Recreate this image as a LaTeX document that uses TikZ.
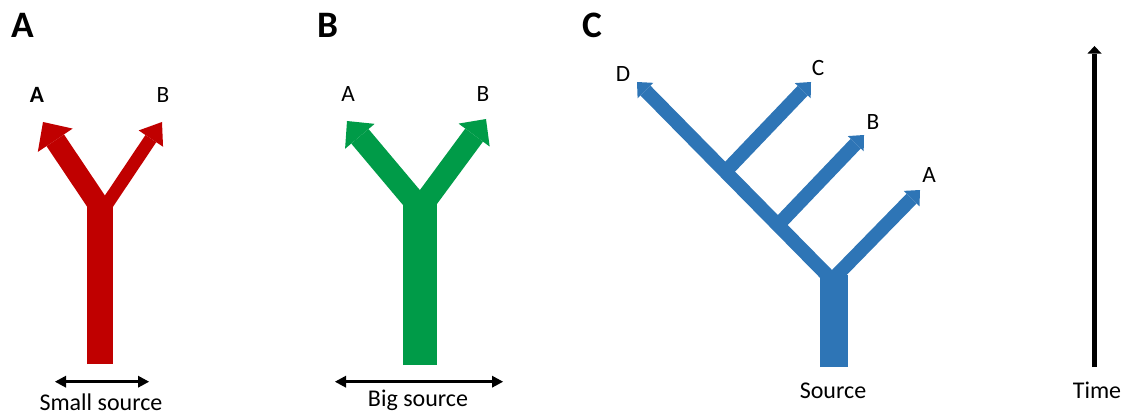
\documentclass[tikz,border=0pt]{standalone}
\usepackage{fontspec}
\setmainfont{Carlito}
\usetikzlibrary{arrows.meta}
\definecolor{redY}{HTML}{C00000}
\definecolor{greenY}{HTML}{009B48}
\definecolor{blueY}{HTML}{2E75B6}
\begin{document}
\begin{tikzpicture}[x=0.75pt,y=-0.75pt,
    lab/.style={font=\fontsize{17.5}{21}\selectfont, anchor=base, inner sep=0pt},
    txt/.style={font=\fontsize{18}{22}\selectfont, anchor=base, inner sep=0pt},
    panel/.style={font=\fontsize{28}{34}\selectfont\bfseries, anchor=base, inner sep=0pt},
    br/.style n args={3}{line width=#1, -{Triangle[length=#2,width=#3,line width=0pt]}},
    dbl/.style={line width=2.5pt,
      {Triangle[length=8.25pt,width=9pt,line width=0pt]}-{Triangle[length=8.25pt,width=9pt,line width=0pt]}}]
  \useasboundingbox (0,0) rectangle (1126,417);

  \node[panel] (pA) at (22.5,37.3) {A};
  \node[panel] (pB) at (328,37.3) {B};
  \node[panel] (pC) at (592,37.3) {C};

  \coordinate (a0) at (100,364);
  \coordinate (a1) at (100,206);
  \coordinate (aL) at (101.3,209);
  \coordinate (aR) at (103,210);
  \coordinate (aA) at (43,122);
  \coordinate (aB) at (162,122);
  \begin{scope}[draw=redY]
    \draw[line width=19.5pt] (a0) -- (a1);
    \draw[br={15.75pt}{16.5pt}{31.5pt}] (aL) -- (aA);
    \draw[br={9.75pt}{15pt}{22pt}] (aR) -- (aB);
  \end{scope}
  \node[lab, font=\fontsize{17.5}{21}\selectfont\bfseries] (labAA) at (37,103) {A};
  \node[lab] (labAB) at (163,103) {B};
  \coordinate (sa1) at (55,381.7);
  \coordinate (sa2) at (149,381.7);
  \draw[dbl] (sa1) -- (sa2);
  \node[txt] (small) at (101,410) {Small source};

  \coordinate (b0) at (420,365);
  \coordinate (b1) at (420,203);
  \coordinate (bL) at (417.7,205);
  \coordinate (bR) at (421.8,206);
  \coordinate (bA) at (347,121);
  \coordinate (bB) at (486,119);
  \begin{scope}[draw=greenY]
    \draw[line width=25.5pt] (b0) -- (b1);
    \draw[br={16.9pt}{15pt}{29pt}] (bL) -- (bA);
    \draw[br={16.5pt}{15pt}{29pt}] (bR) -- (bB);
  \end{scope}
  \node[lab] (labBA) at (348,101.7) {A};
  \node[lab] (labBB) at (483,101.7) {B};
  \coordinate (sb1) at (335,381.7);
  \coordinate (sb2) at (503,381.7);
  \draw[dbl] (sb1) -- (sb2);
  \node[txt] (big) at (418,406.7) {Big source};

  \coordinate (c0) at (834,367);
  \coordinate (c1) at (834,275);
  \coordinate (cJ) at (832,280);
  \coordinate (cJC) at (725.1,171.9);
  \coordinate (cJB) at (778.1,224.9);
  \coordinate (cD) at (637,82);
  \coordinate (cC) at (811,82);
  \coordinate (cB) at (864,135);
  \coordinate (cA) at (920,190);
  \begin{scope}[draw=blueY]
    \draw[line width=21pt] (c0) -- (c1);
    \draw[br={10.5pt}{9pt}{16.5pt}] (cJ) -- (cD);
    \draw[br={10.5pt}{9pt}{16.5pt}] (cJ) -- (cA);
    \draw[br={10.5pt}{9pt}{16.5pt}] (cJB) -- (cB);
    \draw[br={10.5pt}{9pt}{16.5pt}] (cJC) -- (cC);
  \end{scope}
  \node[lab] (labCD) at (623,81.7) {D};
  \node[lab] (labCC) at (818,76) {C};
  \node[lab] (labCB) at (873,129) {B};
  \node[lab] (labCA) at (929,182.5) {A};
  \node[txt] (src) at (833,398.3) {Source};

  \coordinate (t0) at (1094.5,367);
  \coordinate (t1) at (1094.5,46);
  \draw[br={3.75pt}{5.75pt}{10.7pt}] (t0) -- (t1);
  \node[txt] (time) at (1097,398.3) {Time};
\end{tikzpicture}
\end{document}
